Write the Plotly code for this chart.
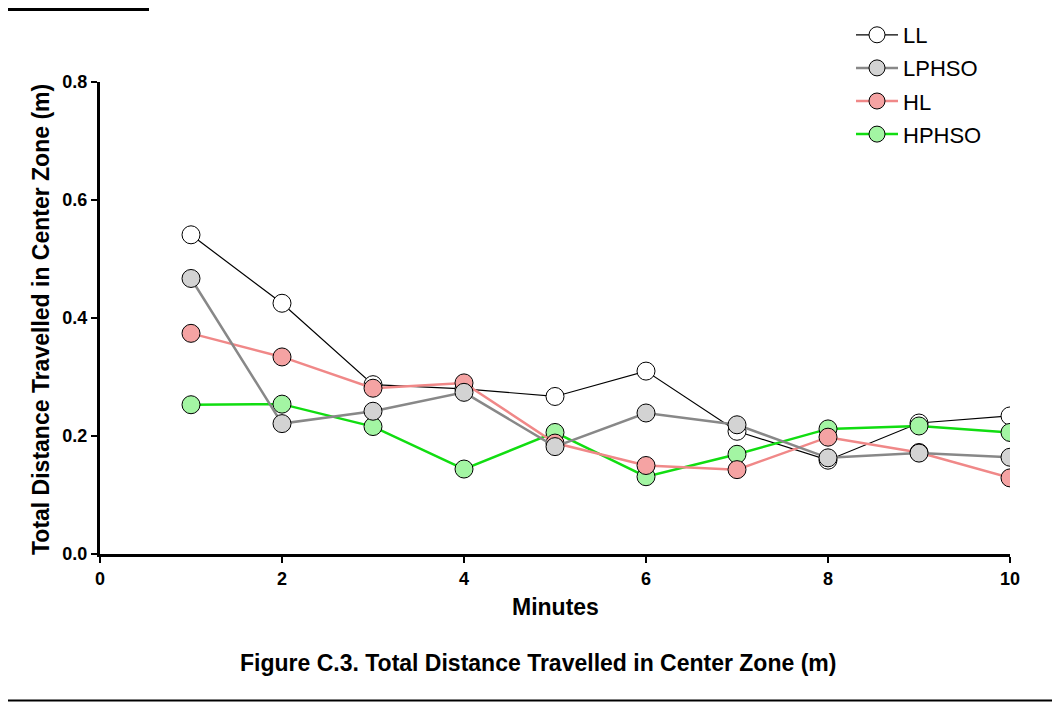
import plotly.graph_objects as go

minutes = [1, 2, 3, 4, 5, 6, 7, 8, 9, 10]
LL = [0.541, 0.425, 0.287, 0.280, 0.267, 0.310, 0.208, 0.159, 0.222, 0.234]
LPHSO = [0.467, 0.221, 0.242, 0.274, 0.182, 0.239, 0.219, 0.163, 0.171, 0.164]
HL = [0.374, 0.334, 0.281, 0.290, 0.188, 0.150, 0.143, 0.198, 0.172, 0.129]
HPHSO = [0.253, 0.254, 0.216, 0.144, 0.206, 0.131, 0.169, 0.212, 0.217, 0.206]

series = [
    ("LL", LL, "black", 1.2, "white", 1),
    ("HPHSO", HPHSO, "#11dd11", 2.5, "#a3f5a3", 4),
    ("HL", HL, "#f08888", 2.5, "#f5a3a3", 3),
    ("LPHSO", LPHSO, "#888888", 2.5, "#d3d3d3", 2),
]

fig = go.Figure()
for name, vals, lc, lw, fc, rank in series:
    fig.add_trace(go.Scatter(
        x=minutes, y=vals, name=name, mode="lines+markers",
        line=dict(color=lc, width=lw),
        marker=dict(symbol="circle", size=18, color=fc,
                    line=dict(color="black", width=1)),
        legendrank=rank, legendgroup=name,
    ))

# page body has an 8px margin, so figure coordinates = page coordinates - 8
OFF = 8
W, H = 1060 - OFF, 702 - OFF
L, T = 100 - OFF, 82 - OFF
pw, ph = 910, 472
R, B = W - L - pw, H - T - ph

def px(x):
    return (x - OFF - L) / pw

def py(y):
    return (H - B - (y - OFF)) / ph

FONT = "Arial, Liberation Sans, sans-serif"
tickf = dict(family=FONT, size=18, color="black", weight="bold")
titlef = dict(family=FONT, size=23, color="black", weight="bold")

fig.update_layout(
    width=W, height=H,
    margin=dict(l=L, r=R, t=T, b=B, autoexpand=False),
    paper_bgcolor="white", plot_bgcolor="white",
    showlegend=True,
    legend=dict(x=px(851), y=py(14), xanchor="left", yanchor="top",
                font=dict(family=FONT, size=22, color="black"),
                bgcolor="rgba(0,0,0,0)", tracegroupgap=1.5, itemwidth=42),
    xaxis=dict(range=[0, 10], tickvals=[0, 2, 4, 6, 8, 10], showgrid=False, zeroline=False,
               showline=True, linecolor="black", linewidth=3, ticks="outside",
               ticklen=6, tickwidth=2, tickcolor="black", tickfont=tickf),
    yaxis=dict(range=[0, 0.8], tickvals=[0, 0.2, 0.4, 0.6, 0.8], tickformat=".1f",
               showgrid=False, zeroline=False,
               showline=True, linecolor="black", linewidth=3, ticks="outside",
               ticklen=6, tickwidth=2, tickcolor="black", tickfont=tickf),
    annotations=[
        dict(text="Total Distance Travelled in Center Zone (m)", xref="paper", yref="paper",
             x=px(41), y=py(320), xanchor="center", yanchor="middle",
             textangle=-90, showarrow=False, font=titlef),
        dict(text="Minutes", xref="paper", yref="paper", x=px(555), y=py(607),
             xanchor="center", yanchor="middle", showarrow=False, font=titlef),
        dict(text="Figure C.3. Total Distance Travelled in Center Zone (m)", xref="paper", yref="paper",
             x=px(538), y=py(663), xanchor="center", yanchor="middle", showarrow=False, font=titlef),
    ],
    shapes=[
        dict(type="rect", xref="paper", yref="paper", x0=px(8), x1=px(149), y0=py(8), y1=py(11),
             fillcolor="black", line=dict(width=0)),
        dict(type="line", xref="paper", yref="paper", x0=px(0), x1=px(1060), y0=py(700.5), y1=py(700.5),
             line=dict(color="black", width=2)),
    ],
)

fig.write_html("out.html")
